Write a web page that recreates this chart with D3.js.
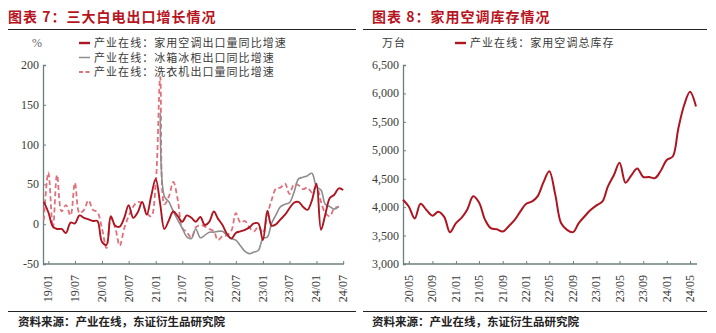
<!DOCTYPE html>
<html>
<head>
<meta charset="utf-8">
<script src="https://cdn.jsdelivr.net/npm/d3@7/dist/d3.min.js"></script>
<style>
  html, body { margin: 0; padding: 0; background: #fff; }
  svg { display: block; }
  .cjk { font-family: "Noto Sans CJK SC", sans-serif; }
  .num { font-family: "Liberation Serif", "DejaVu Serif", serif; }
</style>
</head>
<body>
<svg id="chart" width="716" height="333"></svg>
<script>
// ---- Panel 7: export growth of three white-goods categories (monthly, %) ----
const exportStart = "2018-12";
const acExportYoY = [28, 15, -3, -6, -6, -11, 2, 1, 11, 8, 6, 4, 4, -22, -26, 10, -2, -3, 8, 24,
  8, 15, 28, 12, 35, 57, 25, -6, 5, 16, 10, 3, 11, 8, 3, 9, -1, 3, 16, 7,
  -1, -12, -18, -11, -9, -7, -4, 1, 1, -20, 17, -2, 0, 6, 12, 20, 27, 28, 22, 18,
  30, 51, -7, 12, 33, 37, 45, 43];
const fridgeStartIndex = 26;
const fridgeExportYoY = [140, 35, 28, 16, 5, -5, -16, -18, -6, -17, -14, -10, -10, -9, -9, -14,
  -18, -20, -27, -34, -37, -35, -33, -18, -16, 1, 12, 22, 25, 27, 40, 57, 59, 61, 64, 47,
  43, 25, 22, 19, 22];
const washerExportYoY = [5, 65, -5, 62, 16, 24, 11, 52, 14, 18, 30, 18, 15, -5, -30, 8, -5, -27, -5, 10,
  22, 28, 26, 14, 10, 50, 185, 25, 35, 53, 30, -5, -10, -17, -4, -1, -3, -6, -9, -20,
  -15, -14, -8, 14, 2, 4, -4, -9, -3, -11, 12, 30, 45, 46, 51, 38, 50, 49, 44, 46,
  40, 47, 28, 14, 10, 20, 22];
const exportYTicks = [-50, 0, 50, 100, 150, 200];
const exportLegend = ["产业在线：家用空调出口量同比增速", "产业在线：冰箱冰柜出口同比增速", "产业在线：洗衣机出口量同比增速"];

// ---- Panel 8: household air-conditioner total inventory (10k units) ----
const stockStart = "2020-04";
const acInventory = [4130, 4010, 3800, 4060, 3950, 3850, 3920, 3830, 3560, 3720, 3820, 3960, 4190, 4080,
  3780, 3630, 3610, 3570, 3660, 3770, 3920, 4060, 4100, 4190, 4440, 4630, 4220, 3720, 3600, 3560,
  3720, 3840, 3950, 4030, 4100, 4360, 4560, 4780, 4430, 4560, 4680, 4530, 4530, 4510, 4640, 4830,
  4890, 5380, 5800, 6030, 5770];
const stockYTicks = [3000, 3500, 4000, 4500, 5000, 5500, 6000, 6500];
const stockLegend = ["产业在线：家用空调总库存"];

const titles = ["图表 7：三大白电出口增长情况", "图表 8：家用空调库存情况"];
const sourceNote = "资料来源：产业在线，东证衍生品研究院";

const parseYM = d3.utcParse("%Y-%m");
const monthSeries = (start, values, offset = 0) => {
  const t0 = parseYM(start);
  return values.map((v, i) => ({ date: d3.utcMonth.offset(t0, i + offset), value: v }));
};

const svg = d3.select("#chart");
const RED = "#ad1620", GRAY = "#8e8e8e", PINK = "#e0707c";
const AXIS = "#6c7f7f", TEXT = "#3a3a3a", TITLE = "#b8141e";

// frame: title, rules, source note
function frame(x0, x1, tx, sx, title) {
  svg.append("text").attr("class", "cjk").attr("x", tx).attr("y", 22)
    .attr("font-size", 14).attr("font-weight", "bold").attr("fill", TITLE)
    .attr("letter-spacing", 1).text(title);
  svg.append("line").attr("x1", x0).attr("x2", x1).attr("y1", 29.5).attr("y2", 29.5)
    .attr("stroke", "#222").attr("stroke-width", 1.2);
  svg.append("line").attr("x1", x0).attr("x2", x1).attr("y1", 311.5).attr("y2", 311.5)
    .attr("stroke", "#222").attr("stroke-width", 1.2);
  svg.append("text").attr("class", "cjk").attr("x", sx).attr("y", 325.5)
    .attr("font-size", 11.5).attr("font-weight", "bold").attr("fill", "#222")
    .text(sourceNote);
}
frame(8, 356, 8, 18, titles[0]);
frame(363, 707, 372, 372, titles[1]);

// axes: y axis with inward ticks, x axis with upward ticks and rotated date labels
function axes(x, y, xExtent, yTicks, yFmt, xTicks, xFmt) {
  const [xa, xb] = xExtent, [yb] = y.range();
  const gy = svg.append("g").attr("transform", `translate(${xa},0)`)
    .call(d3.axisRight(y).tickValues(yTicks).tickSize(3).tickFormat(""));
  gy.select(".domain").attr("stroke", AXIS).attr("stroke-width", 1.3);
  gy.selectAll(".tick line").attr("stroke", AXIS);
  svg.append("g").selectAll("text").data(yTicks).join("text")
    .attr("class", "num").attr("x", xa - 4).attr("y", d => y(d) + 4)
    .attr("text-anchor", "end").attr("font-size", 12).attr("fill", TEXT).text(yFmt);

  const gx = svg.append("g").attr("transform", `translate(0,${yb})`)
    .call(d3.axisTop(x).tickValues(xTicks).tickSize(3).tickFormat(""));
  gx.select(".domain").attr("stroke", AXIS).attr("stroke-width", 1.3)
    .attr("d", `M${xa},0H${xb}`);
  gx.selectAll(".tick line").attr("stroke", AXIS);
  svg.append("g").selectAll("text").data(xTicks).join("text")
    .attr("class", "num").attr("font-size", 12).attr("fill", TEXT)
    .attr("text-anchor", "end")
    .attr("transform", d => `translate(${x(d) + 4},${yb + 11}) rotate(-90)`)
    .text(xFmt);
}

function legendRow(x, yc, label, color, dashed, width) {
  svg.append("line").attr("x1", x).attr("x2", x + 11).attr("y1", yc).attr("y2", yc)
    .attr("stroke", color).attr("stroke-width", width)
    .attr("stroke-dasharray", dashed ? "4,2.5" : null);
  svg.append("text").attr("class", "cjk").attr("x", x + 15).attr("y", yc + 4)
    .attr("font-size", 11).attr("letter-spacing", 1.05).attr("fill", TEXT).text(label);
}

const curve = d3.curveCatmullRom.alpha(0.5);
const fmtYM = d3.utcFormat("%y/%m");

// ---- Panel 7 ----
{
  const ac = monthSeries(exportStart, acExportYoY);
  const fr = monthSeries(exportStart, fridgeExportYoY, fridgeStartIndex);
  const wa = monthSeries(exportStart, washerExportYoY);
  const x = d3.scaleUtc().domain([ac[0].date, ac[ac.length - 1].date]).range([43.8, 343.2]);
  const y = d3.scaleLinear().domain([-50, 200]).range([264, 65]);
  const xTicks = d3.utcMonth.every(6).range(parseYM("2019-01"), d3.utcMonth.offset(ac[ac.length - 1].date, 1));
  axes(x, y, [43, 344], exportYTicks, d => d, xTicks, fmtYM);

  const line = d3.line().x(d => x(d.date)).y(d => y(d.value)).curve(curve);
  svg.append("path").datum(wa).attr("d", line).attr("fill", "none")
    .attr("stroke", PINK).attr("stroke-width", 1.8).attr("stroke-dasharray", "5,3");
  svg.append("path").datum(fr).attr("d", line).attr("fill", "none")
    .attr("stroke", GRAY).attr("stroke-width", 1.6);
  svg.append("path").datum(ac).attr("d", line).attr("fill", "none")
    .attr("stroke", RED).attr("stroke-width", 1.9);

  svg.append("text").attr("class", "num").attr("x", 37).attr("y", 47)
    .attr("text-anchor", "middle").attr("font-size", 12).attr("fill", "#666").text("%");
  legendRow(79, 43, exportLegend[0], RED, false, 2.4);
  legendRow(79, 57.5, exportLegend[1], GRAY, false, 1.5);
  legendRow(79, 72, exportLegend[2], PINK, true, 2);
}

// ---- Panel 8 ----
{
  const inv = monthSeries(stockStart, acInventory);
  const x = d3.scaleUtc().domain([inv[0].date, inv[inv.length - 1].date]).range([403, 696]);
  const y = d3.scaleLinear().domain([3000, 6500]).range([264, 65]);
  const xTicks = d3.utcMonth.every(4).range(parseYM("2020-05"), inv[inv.length - 1].date);
  axes(x, y, [403, 697], stockYTicks, d3.format(","), xTicks, fmtYM);

  const line = d3.line().x(d => x(d.date)).y(d => y(d.value)).curve(curve);
  svg.append("path").datum(inv).attr("d", line).attr("fill", "none")
    .attr("stroke", RED).attr("stroke-width", 2);

  svg.append("text").attr("class", "cjk").attr("x", 382).attr("y", 47)
    .attr("font-size", 11).attr("letter-spacing", 1).attr("fill", TEXT).text("万台");
  legendRow(455, 43, stockLegend[0], RED, false, 2.4);
}
</script>
</body>
</html>
